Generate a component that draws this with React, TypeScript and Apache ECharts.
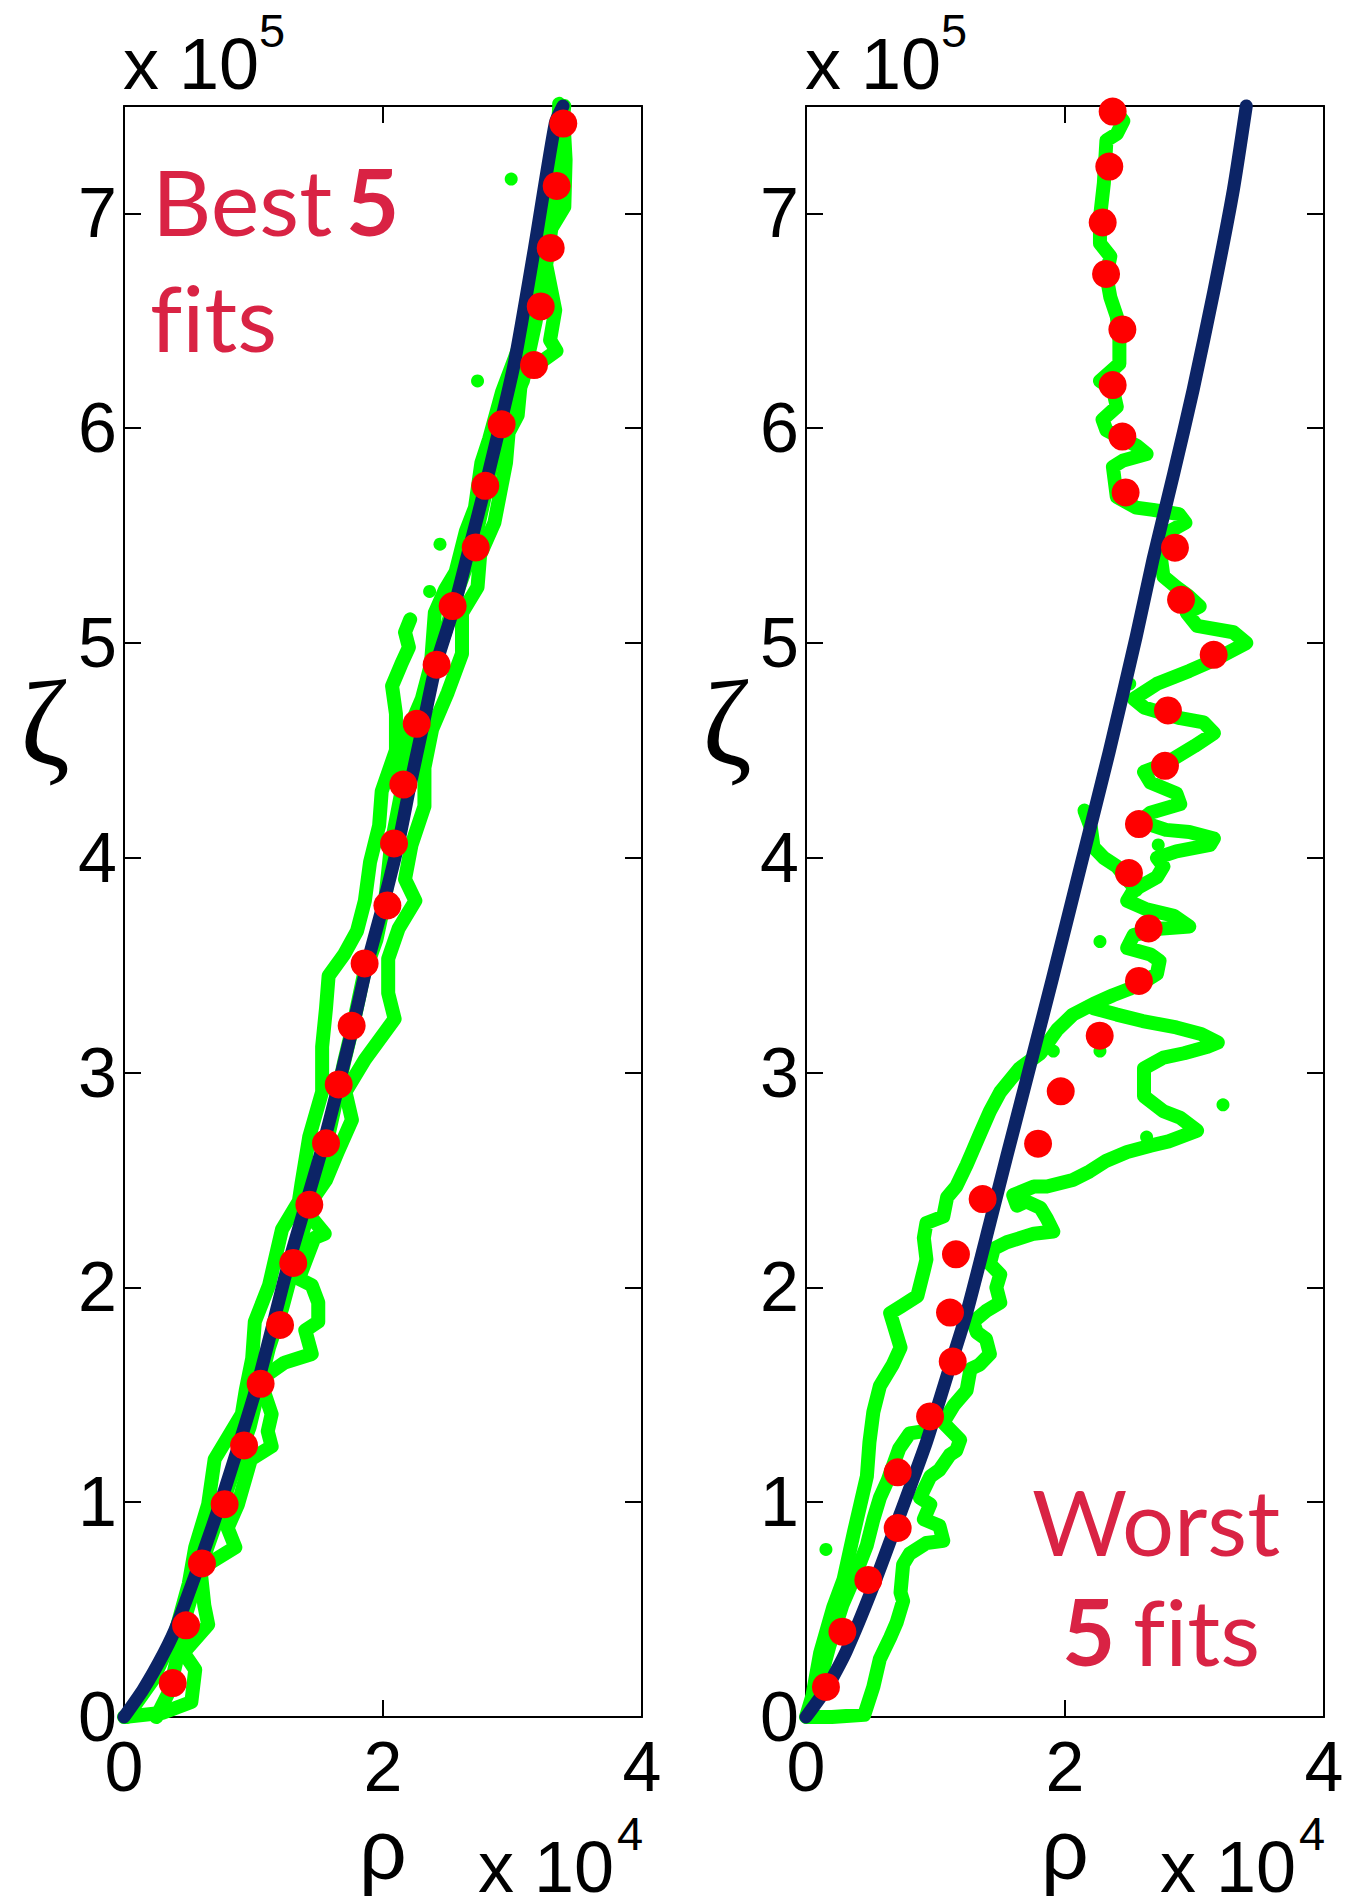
import React, { useEffect, useRef } from "react";
import * as echarts from "echarts";

// ---------- data (rho in units of 1e4, zeta in units of 1e5) ----------
const xTickValues = [0, 2, 4];
const yTickValues = [0, 1, 2, 3, 4, 5, 6, 7];

// ===== Best 5 fits (left panel) =====
const bestModel: number[][] = [
  [0, 0], [0.15, 0.13], [0.31, 0.3], [0.41, 0.43], [0.74, 0.99], [1.03, 1.55], [1.27, 2.11],
  [1.54, 2.67], [1.77, 3.22], [1.88, 3.51], [2.0, 3.78], [2.12, 4.07], [2.21, 4.34], [2.31, 4.62],
  [2.41, 4.9], [2.55, 5.17], [2.67, 5.45], [2.79, 5.73], [3.01, 6.29], [3.17, 6.84], [3.33, 7.42], [3.39, 7.5],
];
const bestMeanRho = [0.376, 0.479, 0.602, 0.777, 0.927, 1.055, 1.205, 1.307, 1.431, 1.56, 1.658, 1.758, 1.858, 2.034,
  2.085, 2.157, 2.26, 2.414, 2.538, 2.716, 2.79, 2.916, 3.166, 3.218, 3.295, 3.341, 3.392];
const bestMeanZeta = [0.158, 0.427, 0.715, 0.991, 1.264, 1.551, 1.825, 2.114, 2.385, 2.671, 2.945, 3.218, 3.508, 3.778,
  4.067, 4.341, 4.624, 4.899, 5.172, 5.445, 5.732, 6.018, 6.294, 6.567, 6.839, 7.128, 7.418];
const bestRunA: number[][] = [
  [0.02, 0.0], [0.22, 0.17], [0.4, 0.4], [0.5, 0.62], [0.55, 0.79], [0.65, 0.99], [0.7, 1.2], [0.91, 1.41],
  [0.94, 1.52], [0.99, 1.67], [1.01, 1.84], [1.12, 2.01], [1.22, 2.27], [1.35, 2.4], [1.37, 2.48], [1.43, 2.7],
  [1.53, 2.91], [1.53, 3.12], [1.56, 3.3], [1.58, 3.45], [1.7, 3.55], [1.8, 3.66], [1.86, 3.8], [1.9, 3.98],
  [1.97, 4.15], [1.99, 4.31], [2.1, 4.5], [2.1, 4.67], [2.07, 4.8], [2.14, 4.9], [2.2, 4.98], [2.17, 5.05], [2.21, 5.11],
];
const bestRunB: number[][] = [
  [2.08, 4.4], [2.2, 4.6], [2.3, 4.74], [2.37, 4.9], [2.4, 5.14], [2.48, 5.25], [2.56, 5.33], [2.64, 5.52],
  [2.71, 5.63], [2.76, 5.84], [2.82, 5.95], [2.92, 6.17], [3.02, 6.33], [3.15, 6.55], [3.2, 6.68], [3.28, 6.96],
  [3.33, 7.22], [3.36, 7.49],
];
const bestRunC: number[][] = [
  [0.0, 0.0], [0.3, 0.02], [0.52, 0.07], [0.55, 0.22], [0.46, 0.3], [0.65, 0.43], [0.62, 0.52], [0.59, 0.69],
  [0.86, 0.79], [0.8, 0.88], [0.88, 0.99], [0.98, 1.2], [1.14, 1.26], [1.11, 1.33], [1.14, 1.41], [1.05, 1.57],
  [1.24, 1.65], [1.45, 1.69], [1.4, 1.8], [1.5, 1.84], [1.5, 1.93], [1.45, 2.01], [1.35, 2.04], [1.47, 2.23],
  [1.55, 2.25], [1.4, 2.36], [1.56, 2.5], [1.65, 2.63], [1.76, 2.78], [1.71, 2.91], [1.86, 3.06], [2.09, 3.25],
  [2.04, 3.37], [2.04, 3.53], [2.12, 3.67], [2.25, 3.8], [2.17, 3.9], [2.22, 4.06], [2.32, 4.24], [2.32, 4.42],
  [2.38, 4.6], [2.5, 4.77], [2.61, 4.95], [2.61, 5.14], [2.73, 5.26], [2.75, 5.41], [2.86, 5.56], [2.95, 5.84],
  [2.97, 5.98], [3.04, 6.06], [3.07, 6.25], [3.2, 6.3], [3.34, 6.36], [3.29, 6.41], [3.33, 6.55], [3.26, 6.76],
  [3.3, 6.93], [3.4, 7.03], [3.41, 7.25], [3.4, 7.36], [3.36, 7.51],
];
const bestRunD: number[][] = [
  [0.25, 0.0], [0.35, 0.12], [0.42, 0.3], [0.48, 0.48], [0.58, 0.68], [0.72, 0.92], [0.85, 1.15], [0.97, 1.35],
  [1.05, 1.55], [1.12, 1.72], [1.22, 1.9], [1.3, 2.08], [1.4, 2.3], [1.52, 2.55], [1.62, 2.82], [1.7, 3.05],
  [1.78, 3.25], [1.85, 3.45], [1.95, 3.62], [2.02, 3.82], [2.06, 4.05], [2.14, 4.3], [2.22, 4.55], [2.34, 4.8],
  [2.48, 5.05], [2.58, 5.25], [2.7, 5.45], [2.8, 5.72], [2.9, 5.98], [3.08, 6.22], [3.18, 6.5], [3.25, 6.8],
  [3.32, 7.1], [3.38, 7.4], [3.4, 7.5],
];
const bestStray: number[][] = [[2.99, 7.16], [2.73, 6.22], [2.44, 5.46], [2.36, 5.24]];

// ===== Worst 5 fits (right panel) =====
const worstModel: number[][] = [
  [0, 0], [0.16, 0.135], [0.31, 0.305], [0.52, 0.61], [0.73, 0.95], [0.93, 1.28], [1.09, 1.59], [1.24, 1.88],
  [1.42, 2.3], [1.55, 2.61], [1.67, 2.89], [1.9, 3.43], [2.12, 3.96], [2.34, 4.49], [2.55, 5.03], [2.68, 5.39],
  [2.84, 5.79], [2.99, 6.18], [3.15, 6.64], [3.3, 7.11], [3.4, 7.5],
];
const worstMeanRho = [0.154, 0.281, 0.481, 0.708, 0.708, 0.958, 1.133, 1.112, 1.158, 1.364, 1.792, 1.967, 2.268,
  2.571, 2.646, 2.494, 2.571, 2.772, 2.795, 3.148, 2.896, 2.849, 2.468, 2.443, 2.368, 2.443, 2.317, 2.291, 2.342, 2.368];
const worstMeanZeta = [0.14, 0.397, 0.638, 0.88, 1.139, 1.399, 1.655, 1.883, 2.154, 2.411, 2.669, 2.913, 3.172,
  3.427, 3.671, 3.929, 4.157, 4.428, 4.686, 4.945, 5.201, 5.444, 5.701, 5.961, 6.201, 6.46, 6.718, 6.958, 7.218, 7.474];
const worstRunA: number[][] = [
  [0.0, 0.0], [0.05, 0.1], [0.11, 0.3], [0.21, 0.51], [0.29, 0.64], [0.37, 0.86], [0.42, 0.99], [0.47, 1.12],
  [0.49, 1.28], [0.52, 1.42], [0.57, 1.54], [0.67, 1.64], [0.73, 1.72], [0.65, 1.88], [0.73, 1.91], [0.86, 1.96],
  [0.91, 2.08], [0.93, 2.13], [0.91, 2.23], [0.93, 2.3], [1.06, 2.33], [1.09, 2.42], [1.16, 2.47], [1.24, 2.57],
  [1.29, 2.64], [1.34, 2.71], [1.42, 2.82], [1.5, 2.91], [1.65, 3.02], [1.81, 3.09], [1.94, 3.2], [2.06, 3.27],
  [2.22, 3.32], [2.37, 3.36], [2.5, 3.39], [2.63, 3.43], [2.71, 3.46], [2.73, 3.52], [2.66, 3.55], [2.48, 3.58],
  [2.53, 3.64], [2.73, 3.67], [2.96, 3.68], [2.84, 3.73], [2.63, 3.76], [2.48, 3.8], [2.53, 3.85], [2.71, 3.91],
  [2.76, 3.96], [2.71, 4.0], [2.86, 4.03], [3.12, 4.06], [3.15, 4.09], [2.96, 4.12], [2.78, 4.13], [2.58, 4.17],
  [2.66, 4.21], [2.89, 4.25], [2.86, 4.3], [2.66, 4.35], [2.61, 4.4], [2.78, 4.44], [3.0, 4.52], [3.15, 4.58],
  [3.07, 4.63], [2.89, 4.65], [2.61, 4.7], [2.53, 4.74], [2.71, 4.81], [2.96, 4.87], [3.15, 4.92], [3.4, 5.0],
  [3.3, 5.05], [3.02, 5.08], [2.94, 5.14], [3.04, 5.17], [2.95, 5.22], [2.86, 5.26], [2.76, 5.31], [2.74, 5.4],
  [2.78, 5.51], [2.93, 5.56], [2.88, 5.6], [2.68, 5.62], [2.55, 5.63], [2.4, 5.68], [2.37, 5.82], [2.45, 5.85],
  [2.63, 5.88], [2.55, 5.92], [2.32, 5.99], [2.29, 6.04], [2.4, 6.1], [2.37, 6.18], [2.27, 6.22], [2.42, 6.3],
  [2.42, 6.41], [2.4, 6.52], [2.35, 6.61], [2.32, 6.71], [2.35, 6.8], [2.27, 6.86], [2.27, 6.98], [2.3, 7.14],
  [2.32, 7.34], [2.4, 7.37], [2.45, 7.43], [2.4, 7.47],
];
const worstRunB: number[][] = [
  [0.02, 0.0], [0.2, 0.0], [0.45, 0.01], [0.52, 0.14], [0.57, 0.27], [0.65, 0.37], [0.7, 0.44], [0.75, 0.54],
  [0.73, 0.58], [0.75, 0.71], [0.8, 0.76], [0.93, 0.81], [1.06, 0.82], [1.03, 0.89], [0.91, 0.92], [0.96, 0.99],
  [0.88, 1.02], [0.96, 1.12], [1.03, 1.15], [1.11, 1.22], [1.16, 1.24], [1.19, 1.29], [1.06, 1.37], [1.14, 1.45],
  [1.24, 1.52], [1.27, 1.62], [1.34, 1.64], [1.42, 1.69], [1.39, 1.76], [1.32, 1.79], [1.29, 1.84], [1.39, 1.89],
  [1.5, 1.93], [1.47, 2.0], [1.5, 2.06], [1.42, 2.11], [1.45, 2.18], [1.55, 2.21], [1.76, 2.25], [1.91, 2.26],
  [1.86, 2.32], [1.81, 2.37], [1.7, 2.4], [1.63, 2.38], [1.6, 2.43], [1.76, 2.47], [1.86, 2.47], [2.06, 2.5],
  [2.19, 2.54], [2.32, 2.59], [2.48, 2.63], [2.66, 2.66], [2.8, 2.68], [3.02, 2.73], [2.89, 2.79], [2.76, 2.82],
  [2.61, 2.89], [2.61, 3.02], [2.76, 3.07], [2.92, 3.09], [3.1, 3.12], [3.18, 3.14], [3.05, 3.18], [2.86, 3.21],
  [2.6, 3.24], [2.4, 3.27], [2.22, 3.3],
];
const worstRunC: number[][] = [
  [0.02, 0.0], [0.1, 0.15], [0.18, 0.33], [0.28, 0.52], [0.38, 0.66], [0.47, 0.8], [0.52, 0.92], [0.57, 1.02],
  [0.63, 1.1], [0.72, 1.25], [0.8, 1.32], [0.9, 1.33], [0.97, 1.38],
];
const worstRunD: number[][] = [
  [2.15, 4.22], [2.2, 4.14], [2.22, 4.05], [2.3, 4.0], [2.4, 3.96], [2.48, 3.9], [2.55, 3.85],
];
const worstStray: number[][] = [[0.154, 0.78], [2.27, 3.61], [2.72, 4.06], [2.5, 4.81], [1.91, 3.1], [2.27, 3.1], [2.63, 2.7], [3.22, 2.85]];

// ---------- styling ----------
const GREEN = "#00ff00";
const RED = "#ff0000";
const NAVY = "#0c2466";
const CRIMSON = "#d92344";
const AXIS_FONT = '"Liberation Sans", Arial, Helvetica, sans-serif';
const NOTE_FONT = 'Lato, "Open Sans", sans-serif';
const FITS = "f\u200Cits";

const GRID_TOP = 106;
const GRID_H = 1611;
const GRID_W = 518;
const PANEL_LEFT = [124, 806];

function pair(rho: number[], zeta: number[]) {
  return rho.map((r, i) => [r, zeta[i]]);
}

function intLabel(v: number) {
  return Number.isInteger(v) ? String(v) : "";
}

function makeX(g: number, pos: "bottom" | "top") {
  return {
    type: "value",
    gridIndex: g,
    position: pos,
    min: xTickValues[0],
    max: xTickValues[xTickValues.length - 1],
    interval: xTickValues[1] - xTickValues[0],
    axisLine: { show: true, onZero: false, lineStyle: { color: "#000", width: 2 } },
    axisTick: { show: true, inside: true, length: 17, lineStyle: { color: "#000", width: 2 } },
    axisLabel: {
      show: pos === "bottom",
      margin: 15,
      fontSize: 70,
      fontFamily: AXIS_FONT,
      color: "#000",
      formatter: intLabel,
    },
    splitLine: { show: false },
  };
}

function makeY(g: number, pos: "left" | "right") {
  return {
    type: "value",
    gridIndex: g,
    position: pos,
    min: 0,
    max: 7.5,
    interval: yTickValues[1] - yTickValues[0],
    axisLine: { show: true, onZero: false, lineStyle: { color: "#000", width: 2 } },
    axisTick: { show: true, inside: true, length: 17, lineStyle: { color: "#000", width: 2 } },
    axisLabel: {
      show: pos === "left",
      margin: 7,
      fontSize: 70,
      fontFamily: AXIS_FONT,
      color: "#000",
      formatter: intLabel,
    },
    splitLine: { show: false },
  };
}

function greenRun(data: number[][], axis: number) {
  return {
    type: "line",
    xAxisIndex: axis,
    yAxisIndex: axis,
    data,
    symbol: "none",
    showSymbol: false,
    clip: false,
    silent: true,
    z: 2,
    lineStyle: { color: GREEN, width: 14, cap: "round", join: "round", opacity: 1 },
  };
}

function panelSeries(
  axis: number,
  runs: number[][][],
  stray: number[][],
  model: number[][],
  mean: number[][]
) {
  return [
    ...runs.map((r) => greenRun(r, axis)),
    {
      type: "scatter",
      xAxisIndex: axis,
      yAxisIndex: axis,
      data: stray,
      symbol: "circle",
      symbolSize: 13,
      clip: false,
      silent: true,
      z: 2,
      itemStyle: { color: GREEN, opacity: 1 },
    },
    {
      type: "line",
      xAxisIndex: axis,
      yAxisIndex: axis,
      data: model,
      symbol: "none",
      showSymbol: false,
      smooth: 0.2,
      clip: false,
      silent: true,
      z: 3,
      lineStyle: { color: NAVY, width: 13, cap: "round", join: "round", opacity: 1 },
    },
    {
      type: "scatter",
      xAxisIndex: axis,
      yAxisIndex: axis,
      data: mean,
      symbol: "circle",
      symbolSize: 28,
      clip: false,
      silent: true,
      z: 4,
      itemStyle: { color: RED, opacity: 1 },
    },
  ];
}

function txt(text: string, x: number, y: number, size: number, opts: any = {}) {
  const align = opts.align || "left";
  return {
    type: "text",
    x,
    y,
    z: 10,
    silent: true,
    style: {
      text,
      fill: opts.color || "#000",
      fontSize: size,
      fontFamily: opts.family || AXIS_FONT,
      fontWeight: opts.weight || "normal",
      align,
      verticalAlign: "middle",
      textAlign: align,
      textVerticalAlign: "middle",
    },
  };
}

function panelTexts(dx: number) {
  return [
    txt("x 10", 123 + dx, 64, 72),
    txt("5", 259 + dx, 30, 47),
    txt("x 10", 478 + dx, 1867, 72),
    txt("4", 617 + dx, 1833, 47),
    txt("ρ", 383 + dx, 1850, 84, { align: "center" }),
    txt("ζ", 45 + dx, 723, 120, { align: "center", family: '"Liberation Serif", "DejaVu Serif", serif' }),
  ];
}

export default function App() {
  const ref = useRef<HTMLDivElement>(null);

  useEffect(() => {
    if (!ref.current) return;
    const chart = echarts.init(ref.current, undefined, { renderer: "svg" });
    const option = {
      animation: false,
      backgroundColor: "#ffffff",
      grid: PANEL_LEFT.map((l) => ({ left: l, top: GRID_TOP, width: GRID_W, height: GRID_H, containLabel: false })),
      xAxis: [makeX(0, "bottom"), makeX(0, "top"), makeX(1, "bottom"), makeX(1, "top")],
      yAxis: [makeY(0, "left"), makeY(0, "right"), makeY(1, "left"), makeY(1, "right")],
      series: [
        ...panelSeries(0, [bestRunA, bestRunB, bestRunC, bestRunD], bestStray, bestModel, pair(bestMeanRho, bestMeanZeta)),
        ...panelSeries(2, [worstRunA, worstRunB, worstRunC, worstRunD], worstStray, worstModel, pair(worstMeanRho, worstMeanZeta)),
      ],
      graphic: [
        ...panelTexts(0),
        ...panelTexts(682),
        txt("Best", 152, 200, 92, { color: CRIMSON, family: NOTE_FONT }),
        txt("5", 346, 200, 92, { color: CRIMSON, family: NOTE_FONT, weight: "bold" }),
        txt(FITS, 150, 316, 92, { color: CRIMSON, family: NOTE_FONT }),
        txt("Worst", 1156, 1520, 92, { color: CRIMSON, family: NOTE_FONT, align: "center" }),
        txt("5", 1062, 1630, 92, { color: CRIMSON, family: NOTE_FONT, weight: "bold" }),
        txt(FITS, 1133, 1630, 92, { color: CRIMSON, family: NOTE_FONT }),
      ],
    };
    chart.setOption(option as any);
    return () => chart.dispose();
  }, []);

  return (
    <div
      ref={ref}
      style={{ position: "absolute", left: 0, top: 0, width: 1369, height: 1899, background: "#fff" }}
    />
  );
}
